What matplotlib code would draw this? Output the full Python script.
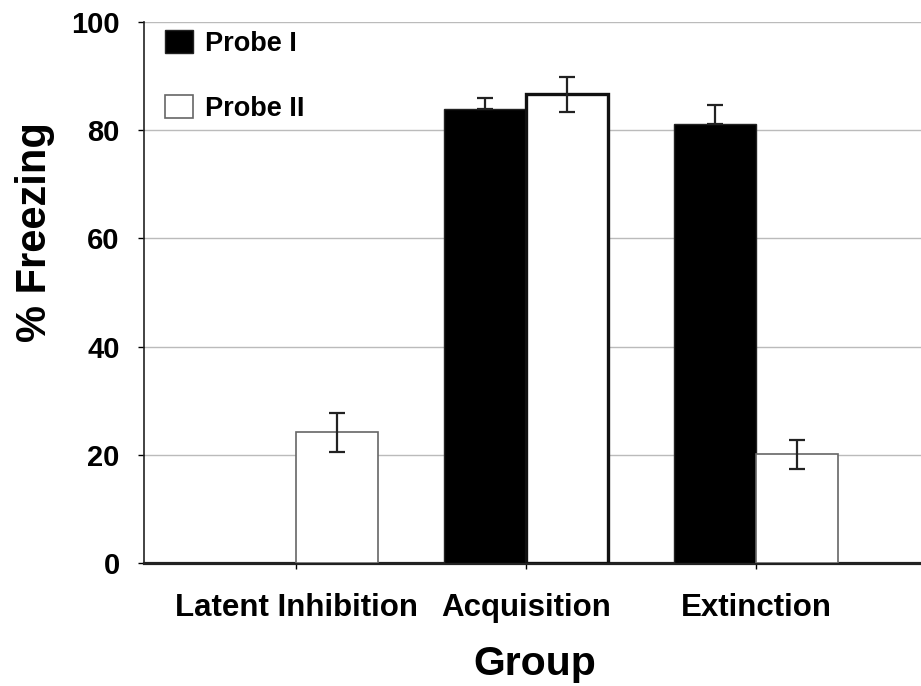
import matplotlib
matplotlib.use("Agg")
import matplotlib.pyplot as plt
import numpy as np

plt.rcParams['font.family'] = ['Liberation Sans', 'DejaVu Sans']
plt.rcParams['font.weight'] = 'bold'

groups = ["Latent Inhibition", "Acquisition", "Extinction"]
probe1 = [0.0, 84.0, 81.2]
probe1_err = [0.0, 2.0, 3.4]
probe2 = [24.2, 86.6, 20.1]
probe2_err = [3.6, 3.3, 2.7]
yticks = [0, 20, 40, 60, 80, 100]

fig = plt.figure(figsize=(9.21, 6.86), dpi=100)
ax = fig.add_axes([0.1564, 0.1793, 0.8436, 0.7887])

x = np.arange(len(groups))
w = 0.357
ax.bar(x - w/2, probe1, w, color='black', edgecolor='#222222', linewidth=1.0,
       label='Probe I', zorder=3)
p2_edge = ['#666666', '#111111', '#666666']
p2_lw = [1.2, 2.4, 1.2]
bars2 = ax.bar(x + w/2, probe2, w, color='white', edgecolor=p2_edge, linewidth=p2_lw,
               label='Probe II', zorder=3)

for xi, v, e in zip(x - w/2, probe1, probe1_err):
    if v > 0:
        ax.errorbar(xi, v, yerr=[[0], [e]], fmt='none', ecolor='#222222',
                    elinewidth=1.6, capsize=6, capthick=1.6, zorder=4)
ax.errorbar(x + w/2, probe2, yerr=probe2_err, fmt='none', ecolor='#222222',
            elinewidth=1.6, capsize=6, capthick=1.6, zorder=4)

ax.set_ylim(0, 100)
ax.set_xlim(-0.661, 2.717)
ax.set_yticks(yticks)
ax.set_yticklabels([str(t) for t in yticks], fontsize=21, fontweight='bold')
ax.set_xticks(x)
ax.set_xticklabels(groups, fontsize=22.5, fontweight='bold')
ax.tick_params(axis='y', direction='out', length=4.5, width=1, pad=13)
ax.tick_params(axis='x', direction='out', length=4.5, width=1, pad=17)
ax.yaxis.grid(True, color='#bbbbbb', linewidth=1.0, zorder=0)
ax.set_axisbelow(True)
for s in ['top', 'right']:
    ax.spines[s].set_visible(False)
ax.spines['left'].set_linewidth(1.2)
ax.spines['left'].set_color('#222222')
ax.spines['bottom'].set_linewidth(2.3)
ax.spines['bottom'].set_color('#222222')

ax.set_ylabel('% Freezing', fontsize=30, fontweight='bold')
ax.yaxis.set_label_coords(-0.114, 0.612)
ax.set_xlabel('Group', fontsize=29.5, fontweight='bold')
ax.xaxis.set_label_coords(0.503, -0.152)

leg = ax.legend(loc='upper left', bbox_to_anchor=(0.027, 0.986), frameon=False,
                handlelength=1.04, handleheight=0.95, borderpad=0, borderaxespad=0,
                labelspacing=1.42, handletextpad=0.44,
                prop={'weight': 'bold', 'size': 19.5})

fig.savefig('out.png', dpi=100)
